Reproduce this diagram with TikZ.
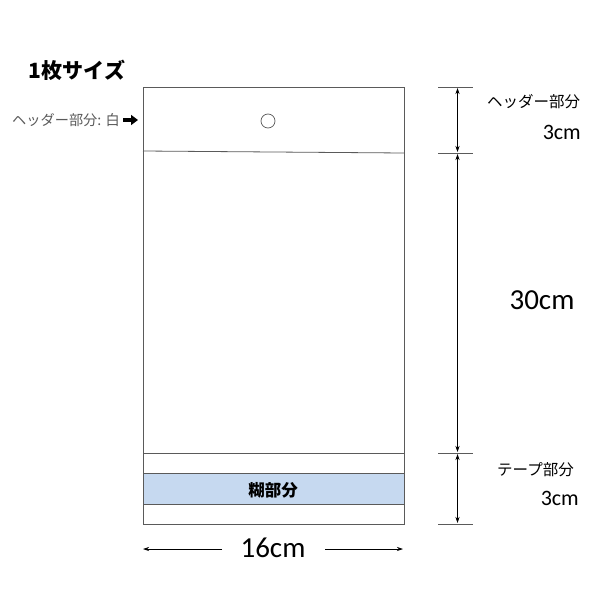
\documentclass[tikz,border=0pt]{standalone}
\usepackage{fontspec}
\setmainfont{Carlito}
\newfontfamily\jp{Noto Sans CJK JP}
\usetikzlibrary{arrows.meta}
\definecolor{glue}{RGB}{198,217,240}
\definecolor{edge}{RGB}{90,90,90}
\definecolor{labgray}{RGB}{90,90,90}
\tikzset{
  dimline/.style={draw=black, line width=0.8pt, {Stealth[length=6pt,width=4pt]}-{Stealth[length=6pt,width=4pt]}},
  tick/.style={draw=edge, line width=0.6pt},
  lab/.style={inner sep=0pt, font=\jp\fontsize{15.5}{17}\selectfont, anchor=west},
  num/.style={inner sep=0pt, font=\fontsize{22}{24}\selectfont},
  big/.style={inner sep=0pt, font=\fontsize{29}{31}\selectfont},
}
\begin{document}
\begin{tikzpicture}[x=1pt,y=-1pt]
\useasboundingbox (0,0) rectangle (600,600);
\fill[white] (0,0) rectangle (600,600);
% bag
\coordinate (tl) at (143,87);
\coordinate (br) at (404,524);
\fill[glue] (143,473) rectangle (404,504);
\draw[edge, line width=0.8pt] (tl) rectangle (br);
\draw[edge, line width=0.8pt] (143,151) -- (404,153);
\draw[edge, line width=0.8pt] (143,453) -- (404,453);
\draw[edge, line width=0.8pt] (143,473) -- (404,473);
\draw[edge, line width=0.8pt] (143,504) -- (404,504);
\node[draw=edge, line width=0.7pt, circle, minimum size=14pt, inner sep=0pt] (hole) at (268,121) {};
\node[inner sep=0pt, font=\jp\bfseries\fontsize{16.5}{18}\selectfont] (glue) at (273,490) {糊部分};
% title
\node[inner sep=0pt, font=\jp\bfseries\fontsize{21}{23}\selectfont] (title) at (77,70) {1枚サイズ};
\node[inner sep=0pt, anchor=east, font=\jp\fontsize{14.2}{16}\selectfont, text=labgray] (hdr) at (120,120) {ヘッダー部分: 白};
\draw[-{Triangle[length=7pt,width=10pt]}, line width=3.5pt] (hdr.east) ++(3,0) coordinate (a0) -- ++(15,0) coordinate (a1);
% right dims
\coordinate (t1a) at (438,87);  \coordinate (t1b) at (473,87);
\coordinate (t2a) at (438,153); \coordinate (t2b) at (473,153);
\coordinate (t3a) at (438,453); \coordinate (t3b) at (473,453);
\coordinate (t4a) at (438,524); \coordinate (t4b) at (473,524);
\draw[tick] (t1a) -- (t1b);
\draw[tick] (t2a) -- (t2b);
\draw[tick] (t3a) -- (t3b);
\draw[tick] (t4a) -- (t4b);
\coordinate (d1) at (457.5,88); \coordinate (d2) at (457.5,152);
\coordinate (d3) at (457.5,154); \coordinate (d4) at (457.5,452);
\coordinate (d5) at (457.5,454); \coordinate (d6) at (457.5,523);
\draw[dimline] (d1) -- (d2);
\draw[dimline] (d3) -- (d4);
\draw[dimline] (d5) -- (d6);
\node[lab] (hl) at (487,102) {ヘッダー部分};
\node[num, anchor=east] (h3) at (581,132) {3cm};
\node[big] (l30) at (542,300) {30cm};
\node[lab] (tl2) at (497,470) {テープ部分};
\node[num, anchor=east] (t3) at (579,498) {3cm};
% bottom width
\node[big] (w16) at (273,548) {16cm};
\coordinate (wl) at (143,549); \coordinate (wl2) at (222,549);
\coordinate (wr) at (325,549); \coordinate (wr2) at (403,549);
\draw[line width=0.7pt, -{Stealth[length=6pt,width=4pt]}] (wl2) -- (wl);
\draw[line width=0.7pt, -{Stealth[length=6pt,width=4pt]}] (wr) -- (wr2);
\end{tikzpicture}
\end{document}
